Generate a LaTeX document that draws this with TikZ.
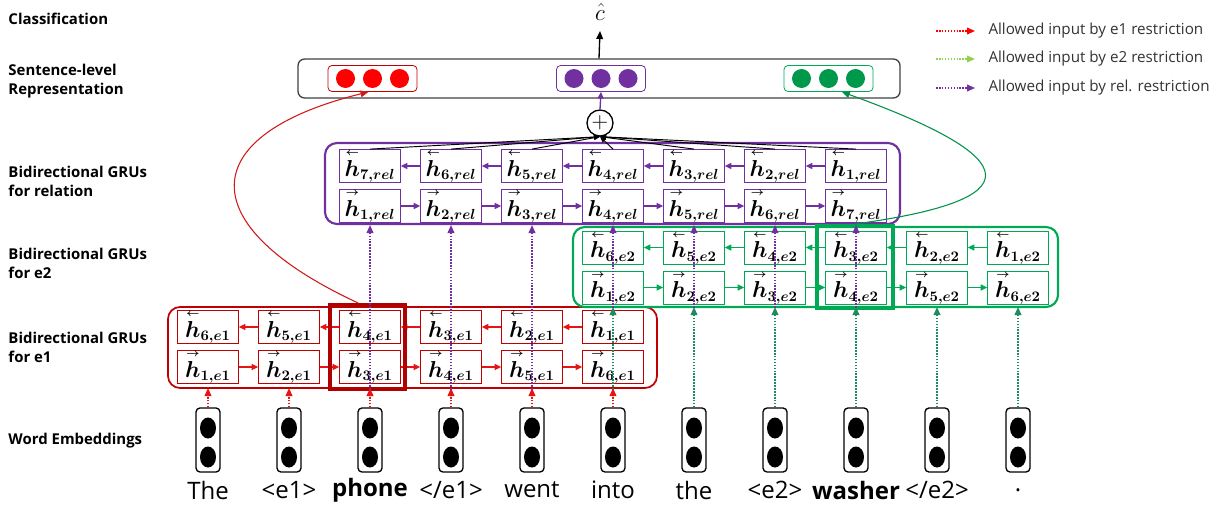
\documentclass[tikz,border=0pt]{standalone}
\usepackage{amsmath}
\usepackage{amssymb}
\usepackage{bm}
\usepackage{fontspec}
\setmainfont{Open Sans}
\usetikzlibrary{arrows.meta}
\definecolor{eonered}{RGB}{192,0,0}
\definecolor{eonearrow}{RGB}{230,20,20}
\definecolor{eonedark}{RGB}{176,0,0}
\definecolor{relpurple}{RGB}{112,48,160}
\definecolor{etwogreen}{RGB}{0,170,85}
\definecolor{etwodot}{RGB}{30,140,95}
\definecolor{lightgreen}{RGB}{146,208,80}
\tikzset{every picture/.style={line width=0.75pt}}
\newcommand{\hback}[1]{\overset{\scriptscriptstyle\bm{\leftarrow}}{\bm{h}}_{\bm{#1}}}
\newcommand{\hfwd}[1]{\overset{\scriptscriptstyle\bm{\rightarrow}}{\bm{h}}_{\bm{#1}}}
\tikzset{
  cell/.style={draw, fill=white, line width=0.6pt, minimum width=45.5pt, minimum height=21pt, inner sep=0pt, font=\fontsize{16}{18}\selectfont},
  eonecell/.style={cell, draw=eonered},
  etwocell/.style={cell, draw=etwogreen},
  relcell/.style={cell, draw=relpurple},
  tip/.style={-{Triangle[length=5pt,width=4.5pt]}},
  layerarr/.style={tip, line width=1pt, #1},
  inarr/.style={-{Triangle[length=6pt,width=5pt]}, line width=1.2pt, densely dotted, #1},
  sidelabel/.style={anchor=west, align=left, inner sep=0pt, font=\bfseries\fontsize{11.2}{14.25}\selectfont},
  word/.style={inner sep=0pt, font=\fontsize{18}{20}\selectfont},
  embbox/.style={draw, line width=1pt, rounded corners=3pt, minimum width=18pt, minimum height=48pt, inner sep=0pt},
  repbox/.style={draw=#1, line width=0.6pt, rounded corners=3pt, minimum width=66.75pt, minimum height=19.5pt, inner sep=0pt},
  legtext/.style={anchor=west, inner sep=0pt, text=black!80, font=\fontsize{11.4}{13}\selectfont}
}

\begin{document}
\begin{tikzpicture}[x=0.75pt,y=0.75pt,yscale=-1,xscale=1]
\useasboundingbox (0,0) rectangle (1226,510);

% side labels
\node[sidelabel] (labcls) at (8,19) {Classification};
\node[sidelabel] (labsent) at (8,81.5) {Sentence-level\\Representation};
\node[sidelabel] (labrel) at (8,181) {Bidirectional GRUs\\for relation};
\node[sidelabel] (labetwo) at (8,263.5) {Bidirectional GRUs\\for e2};
\node[sidelabel] (labeone) at (8,347.5) {Bidirectional GRUs\\for e1};
\node[sidelabel] (labemb) at (8,441) {Word Embeddings};

% legend
\coordinate (lgsa) at (936,31); \coordinate (lgea) at (975,31);
\coordinate (lgsb) at (936,59); \coordinate (lgeb) at (975,59);
\coordinate (lgsc) at (936,88); \coordinate (lgec) at (975,88);
\draw[inarr=red] (lgsa) -- (lgea);
\draw[inarr=lightgreen] (lgsb) -- (lgeb);
\draw[inarr=relpurple] (lgsc) -- (lgec);
\node[legtext] (lgta) at (988,31) {Allowed input by e1 restriction};
\node[legtext] (lgtb) at (988,59) {Allowed input by e2 restriction};
\node[legtext] (lgtc) at (988,88) {Allowed input by rel. restriction};

% sentence-level representation
\node[draw=black!75, line width=1pt, rounded corners=5pt, minimum width=451.5pt, minimum height=29.25pt, inner sep=0pt] (sent) at (599,78.5) {};
\node[repbox=eonered] (repeone) at (372.5,78.5) {};
\node[repbox=relpurple] (reprel) at (601,78.5) {};
\node[repbox=etwogreen] (repetwo) at (828.5,78.5) {};
\foreach \d in {-27,0,27}{
  \fill[red] (372.5+\d,78.5) circle (9.5);
  \fill[relpurple] (601+\d,78.5) circle (9.5);
  \fill[etwogreen!90!black] (828.5+\d,78.5) circle (9.5);
}
\node[inner sep=0pt, font=\fontsize{17}{19}\selectfont] (chat) at (600,12) {$\hat{c}$};
\coordinate (ctop) at (600,31);
\draw[-{Triangle[length=6pt,width=5pt]}, line width=1pt] (sent.north) -- (ctop);

% sum node
\node[draw, circle, line width=1pt, minimum size=19.5pt, inner sep=0pt, fill=white] (plus) at (600,123) {\fontsize{17}{17}\selectfont$+$};
\draw[layerarr=relpurple] (plus.north) -- (reprel.south);

% layer frames
\draw[eonered, line width=1.3pt, rounded corners=9pt] (168,307) rectangle (657,388);
\draw[etwogreen, line width=1.6pt, rounded corners=9pt] (573,227) rectangle (1058,307);
\draw[relpurple, line width=1.6pt, rounded corners=9pt] (325,143) rectangle (900,224);
\coordinate (eonebot) at (0,388);
\coordinate (etwobot) at (0,307);
\coordinate (relbot) at (0,225);

% GRU cells for e1
\foreach \k in {0,...,5}{
  \pgfmathsetmacro{\cx}{208+81*\k}
  \pgfmathtruncatemacro{\n}{6-\k}
  \pgfmathtruncatemacro{\m}{\k+1}
  \node[eonecell] (eonet\k) at (\cx,327) {$\hback{\n,e1}$};
  \node[eonecell] (eoneb\k) at (\cx,367) {$\hfwd{\m,e1}$};
}
\foreach \k [evaluate=\k as \j using int(\k+1)] in {0,...,4}{
  \draw[layerarr=eonearrow] (eonet\j) -- (eonet\k);
  \draw[layerarr=eonearrow] (eoneb\k) -- (eoneb\j);
}

% GRU cells for e2
\foreach \k in {0,...,5}{
  \pgfmathsetmacro{\cx}{613+81*\k}
  \pgfmathtruncatemacro{\n}{6-\k}
  \pgfmathtruncatemacro{\m}{\k+1}
  \node[etwocell] (etwot\k) at (\cx,247.5) {$\hback{\n,e2}$};
  \node[etwocell] (etwob\k) at (\cx,287.5) {$\hfwd{\m,e2}$};
}
\foreach \k [evaluate=\k as \j using int(\k+1)] in {0,...,4}{
  \draw[layerarr=etwogreen] (etwot\j) -- (etwot\k);
  \draw[layerarr=etwogreen] (etwob\k) -- (etwob\j);
}

% GRU cells for relation
\foreach \k in {0,...,6}{
  \pgfmathsetmacro{\cx}{370+81*\k}
  \pgfmathtruncatemacro{\n}{7-\k}
  \pgfmathtruncatemacro{\m}{\k+1}
  \node[relcell] (relt\k) at (\cx,166) {$\hback{\n,rel}$};
  \node[relcell] (relb\k) at (\cx,206) {$\hfwd{\m,rel}$};
}
\foreach \k [evaluate=\k as \j using int(\k+1)] in {0,...,5}{
  \draw[layerarr=relpurple] (relt\j) -- (relt\k);
  \draw[layerarr=relpurple] (relb\k) -- (relb\j);
}
\foreach \k in {0,...,6}
  \draw[-{Triangle[length=4.5pt,width=3.5pt]}, line width=0.7pt] (relt\k.north) -- (plus.south);

% entity positions
\node[draw=eonedark, line width=3pt, minimum width=56.25pt, minimum height=63pt, inner sep=0pt] (eonehl) at (367.5,347) {};
\node[draw=etwogreen, line width=3pt, minimum width=57pt, minimum height=61.5pt, inner sep=0pt] (etwohl) at (855,267) {};

% curves to the sentence-level representation
\draw[-{Triangle[length=6pt,width=5pt]}, line width=0.8pt, red!80!black!90] ([xshift=-7pt]eonehl.north) .. controls (190,225) and (195,135) .. ([xshift=-3pt]repeone.south);
\draw[-{Triangle[length=6pt,width=5pt]}, line width=0.8pt, etwogreen!85!black] (etwohl.north) .. controls (1030,200) and (1030,160) .. ([xshift=10pt]repetwo.south);

% word embeddings
\foreach \w [count=\i from 0] in {The,<e1>,\textbf{phone},</e1>,went,into,the,<e2>,\textbf{washer},</e2>,.}{
  \pgfmathsetmacro{\cx}{208+81*\i}
  \node[embbox] (emb\i) at (\cx,440) {};
  \fill (\cx,428) ellipse [x radius=8, y radius=10.5];
  \fill (\cx,457) ellipse [x radius=8, y radius=10.5];
  \node[word] (w\i) at (\cx,490) {\w};
}

% allowed inputs
\foreach \i in {2,...,8}
  \draw[inarr=relpurple] (emb\i.north) -- (emb\i.north |- relbot);
\foreach \i in {5,...,10}
  \draw[inarr=etwodot] (emb\i.north) -- (emb\i.north |- etwobot);
\foreach \i in {0,...,5}
  \draw[inarr=eonearrow] (emb\i.north) -- (emb\i.north |- eonebot);
\end{tikzpicture}
\end{document}
